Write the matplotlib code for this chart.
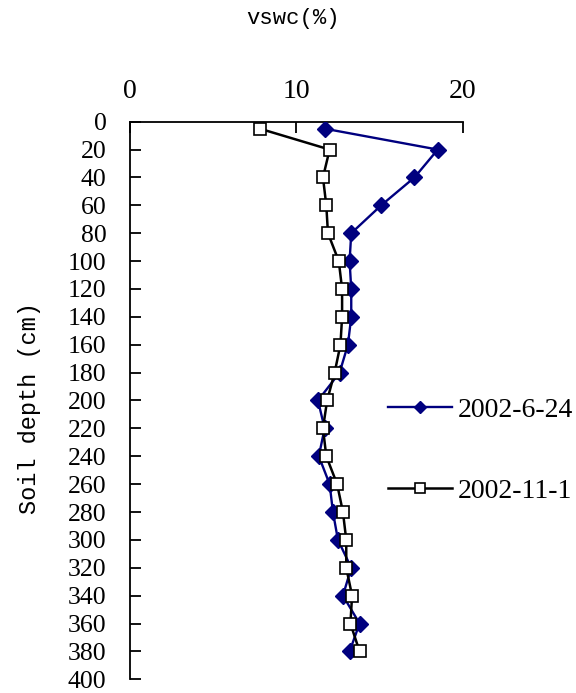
import matplotlib.pyplot as plt

# -------------------------
# Data
# -------------------------
depth = [5, 20, 40, 60, 80, 100, 120, 140, 160, 180, 200, 220, 240,
         260, 280, 300, 320, 340, 360, 380]

vswc_jun = [11.7, 18.5, 17.1, 15.1, 13.3, 13.2, 13.3, 13.3, 13.1, 12.6,
            11.3, 11.7, 11.35, 12.0, 12.2, 12.5, 13.3, 12.8, 13.8, 13.2]

vswc_nov = [7.8, 12.0, 11.6, 11.8, 11.9, 12.55, 12.75, 12.75, 12.65, 12.3,
            11.85, 11.6, 11.8, 12.45, 12.8, 13.0, 13.0, 13.35, 13.25, 13.8]

labels = ['2002-6-24', '2002-11-1']
x_ticks = [0, 10, 20]
y_ticks = list(range(0, 401, 20))

# -------------------------
# Plotting
# -------------------------
plt.rcParams['font.family'] = ['Liberation Serif', 'DejaVu Serif']

fig = plt.figure(figsize=(5.76, 6.93), dpi=100)
ax = fig.add_axes([0.2257, 0.0198, 0.5776, 0.8046])

l1, = ax.plot(vswc_jun, depth, color='#00007f', linewidth=1.7, marker='D',
              markersize=8, markerfacecolor='#00007f', markeredgecolor='#00007f',
              label=labels[0], zorder=3)
l2, = ax.plot(vswc_nov, depth, color='black', linewidth=1.8, marker='s',
              markersize=9, markerfacecolor='white', markeredgecolor='black',
              markeredgewidth=1.2, label=labels[1], zorder=4)

ax.set_xlim(0, 20)
ax.set_ylim(400, 0)
ax.set_xticks(x_ticks)
ax.set_yticks(y_ticks)

ax.xaxis.tick_top()
ax.spines['right'].set_visible(False)
ax.spines['bottom'].set_visible(False)
for sp in ('top', 'left'):
    ax.spines[sp].set_linewidth(1.3)

ax.tick_params(axis='x', direction='in', length=8, width=1.3, labelsize=20, pad=13)
ax.tick_params(axis='y', direction='in', length=8, width=1.3, labelsize=18.5, pad=17)

fig.text(0.509, 0.973, 'vswc(%)', ha='center', va='center', fontsize=16,
         family='Liberation Mono')
fig.text(0.052, 0.411, 'Soil depth (cm)', ha='center', va='center', rotation=90,
         fontsize=17, family='Liberation Mono')

fig.legend(handles=[l1, l2], loc='upper left', bbox_to_anchor=(0.674, 0.4265),
           frameon=False, fontsize=20, labelspacing=2.0, handlelength=2.3,
           handletextpad=0.22, borderpad=0, borderaxespad=0, markerscale=0.75)

plt.savefig('out.png', dpi=100)
